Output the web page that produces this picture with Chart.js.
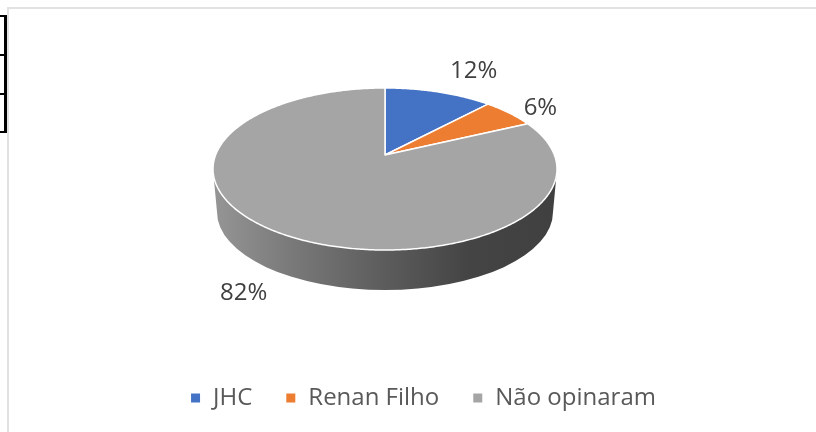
<!DOCTYPE html>
<html>
<head>
<meta charset="utf-8">
<title>Pie</title>
<script src="https://cdn.jsdelivr.net/npm/chart.js@4"></script>
<style>
  html, body { margin: 0; padding: 0; background: #fff; }
  #page { position: relative; width: 816px; height: 432px; overflow: hidden; }
  #chart { position: absolute; left: 0; top: 0; }
  /* chart frame, open at the right and bottom edges of the crop */
  .frame-top  { position: absolute; left: 7px; top: 7px; width: 809px; height: 2px; background: #e2e2e2; }
  .frame-left { position: absolute; left: 7px; top: 7px; width: 2px; height: 425px; background: #e2e2e2; }
  /* bit of a table cut off at the left edge */
  .tbl-h { position: absolute; left: 0; width: 7px; height: 2px; background: #000; }
  .tbl-v { position: absolute; left: 4px; top: 15px; width: 3px; height: 118px; background: #000; }
</style>
</head>
<body>
<div id="page">
  <div class="frame-top"></div>
  <div class="frame-left"></div>
  <div class="tbl-h" style="top:15px"></div>
  <div class="tbl-h" style="top:54px"></div>
  <div class="tbl-h" style="top:93px"></div>
  <div class="tbl-h" style="top:131px"></div>
  <div class="tbl-v"></div>
  <canvas id="chart" width="816" height="432"></canvas>
</div>
<script>
// ---- DATA ----
const categories = ['JHC', 'Renan Filho', 'Não opinaram'];
const percentValues = [12, 6, 82];
const sliceColors = ['#4472c4', '#ed7d31', '#a5a5a5'];

// ---- 3D PROJECTION ----
// disc seen in perspective: apex sits above the middle of the outline
const APEX_X = 385, APEX_Y = 155;
const PROJ_A = 169.4, PROJ_B = 78.6, PROJ_P = -0.1728;
const RIM = { cx: 385, cy: 169.5, rx: 172, ry: 81 };
const BASE = { cx: 385, cy: 212, rx: 168, ry: 78 };

function project(angle, r) {
  const u = Math.cos(angle) * r, v = Math.sin(angle) * r;
  const d = 1 + PROJ_P * v;
  return [APEX_X + PROJ_A * u / d, APEX_Y + PROJ_B * v / d];
}

// label offsets from the projected rim point of each slice
const labelOffsets = [[35, -21], [31, -5], [-35, 60]];

const pie3d = {
  id: 'pie3d',
  beforeDatasetDraw(chart, args) {
    const ctx = chart.ctx;
    const arcs = chart.getDatasetMeta(args.index).data;

    // side wall
    const grad = ctx.createLinearGradient(BASE.cx - BASE.rx, 0, BASE.cx + BASE.rx, 0);
    grad.addColorStop(0, '#949494');
    grad.addColorStop(0.25, '#767676');
    grad.addColorStop(0.5, '#5c5c5c');
    grad.addColorStop(0.75, '#444444');
    grad.addColorStop(1, '#404040');
    ctx.save();
    ctx.fillStyle = grad;
    ctx.beginPath();
    ctx.ellipse(BASE.cx, BASE.cy, BASE.rx, BASE.ry, 0, 0, Math.PI);
    ctx.lineTo(RIM.cx - RIM.rx, RIM.cy);
    ctx.lineTo(RIM.cx + RIM.rx, RIM.cy);
    ctx.closePath();
    ctx.fill();

    // top face, slice by slice
    arcs.forEach((arc) => {
      const p = arc.getProps(['startAngle', 'endAngle'], true);
      ctx.beginPath();
      ctx.moveTo(APEX_X, APEX_Y);
      const steps = Math.ceil((p.endAngle - p.startAngle) / 0.01);
      for (let i = 0; i <= steps; i++) {
        const pt = project(p.startAngle + (p.endAngle - p.startAngle) * i / steps, 1);
        ctx.lineTo(pt[0], pt[1]);
      }
      ctx.closePath();
      ctx.fillStyle = arc.options.backgroundColor;
      ctx.fill();
      ctx.strokeStyle = '#ffffff';
      ctx.lineWidth = 1.5;
      ctx.lineJoin = 'round';
      ctx.stroke();
    });

    // percent labels
    ctx.font = '24px "Open Sans"';
    ctx.fillStyle = '#404040';
    ctx.textAlign = 'center';
    ctx.textBaseline = 'middle';
    arcs.forEach((arc, i) => {
      const p = arc.getProps(['startAngle', 'endAngle'], true);
      const pt = project((p.startAngle + p.endAngle) / 2, 1);
      ctx.fillText(percentValues[i] + '%', pt[0] + labelOffsets[i][0], pt[1] + labelOffsets[i][1]);
    });
    ctx.restore();
    return false; // default flat arcs are replaced by the drawing above
  }
};

new Chart(document.getElementById('chart'), {
  type: 'pie',
  data: {
    labels: categories,
    datasets: [{ data: percentValues, backgroundColor: sliceColors }]
  },
  options: {
    responsive: false,
    animation: false,
    layout: { padding: { left: 30, bottom: 12 } },
    plugins: {
      tooltip: { enabled: false },
      legend: {
        position: 'bottom',
        labels: {
          color: '#595959',
          font: { family: '"Open Sans"', size: 24 },
          boxWidth: 11,
          boxHeight: 11,
          padding: 33,
        }
      }
    }
  },
  plugins: [pie3d]
});
</script>
</body>
</html>
